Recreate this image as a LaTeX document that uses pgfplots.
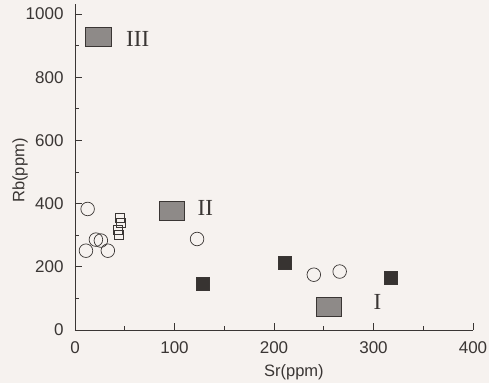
\documentclass[border=0pt]{standalone}
\usepackage{pgfplots}
\pgfplotsset{compat=1.18}
\usepackage{fontspec}
\setmainfont{Liberation Sans}
\newfontfamily\serifnum{Liberation Serif}
\definecolor{bg}{HTML}{F6F2EF}
\definecolor{ink}{HTML}{3A3634}
\definecolor{boxgray}{HTML}{8E8A88}
\begin{document}
\begin{tikzpicture}
\fill[bg] (-75pt,-53pt) rectangle (414pt,330pt);
\begin{axis}[
  scale only axis,
  width=398pt, height=325.5pt,
  xmin=0, xmax=400, ymin=0, ymax=1030,
  axis lines=left, axis line style={-, ink, line width=0.9pt},
  xtick={0,100,200,300,400}, ytick={0,200,400,600,800,1000},
  minor xtick={50,150,250,350}, minor ytick={100,300,500,700,900},
  tick align=inside,
  major tick length=7pt, minor tick length=4pt,
  tick style={ink, line width=0.8pt},
  ticklabel style={font=\fontsize{17}{19}\selectfont, text=ink},
  /pgf/number format/assume math mode=true,
  /pgf/number format/1000 sep={},
  xticklabel style={yshift=-8pt},
  yticklabel style={xshift=-8pt},
  xlabel={Sr(ppm)}, ylabel={Rb(ppm)},
  label style={font=\fontsize{16.5}{18}\selectfont, text=ink},
  xlabel style={at={(axis description cs:0.55,0)}, yshift=-42pt, anchor=center},
  ylabel style={at={(axis description cs:-0.138,0.49)}, anchor=center},
  clip=false,
]
% open circles
\addplot[only marks, mark=o, mark size=6.8pt, mark options={draw=ink, line width=0.7pt}] coordinates {
(12.7,383) (11,251) (21,286) (26,283) (33,251) (122.7,288) (240,175) (266,185)
};
% small open squares
\addplot[only marks, mark=square, mark size=4.5pt, mark options={draw=ink, line width=0.7pt, fill=none}] coordinates {
(45,355) (46,338) (43,318) (44,300)
};
% filled black squares
\addplot[only marks, mark=square*, mark size=6.5pt, mark options={draw=ink, fill=ink!95!black}] coordinates {
(128,146) (211,214) (317,164)
};
% large grey boxes
\addplot[only marks, mark=square*, mark size=9.5pt, mark options={xscale=1.35, draw=ink, fill=boxgray, line width=0.8pt}] coordinates {
(23.5,927) (97.5,378) (255,74)
};
\node[font=\serifnum\fontsize{23}{25}\selectfont, text=ink] at (axis cs:63,921) {III};
\node[font=\serifnum\fontsize{23}{25}\selectfont, text=ink] at (axis cs:131,387) {II};
\node[font=\serifnum\fontsize{23}{25}\selectfont, text=ink] at (axis cs:304,89) {I};
\end{axis}
\pgfresetboundingbox
\useasboundingbox (-75pt,-53pt) rectangle (414pt,330pt);
\end{tikzpicture}
\end{document}
